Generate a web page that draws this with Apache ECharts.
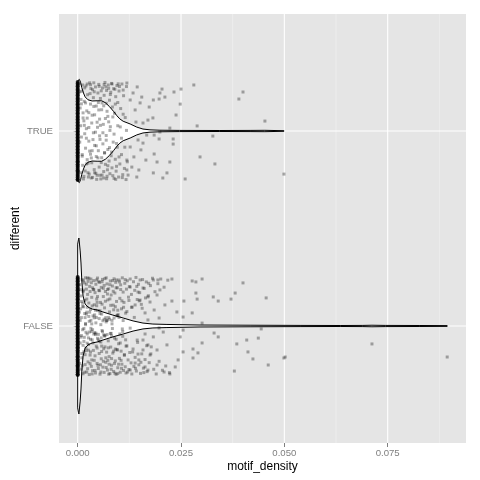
<!DOCTYPE html>
<html><head><meta charset="utf-8">
<script src="https://cdn.jsdelivr.net/npm/echarts@6/dist/echarts.min.js"></script>
<style>html,body{margin:0;padding:0;background:#fff}#c{width:480px;height:480px}</style>
</head><body><div id="c"></div>
<script>
const categories = ['FALSE', 'TRUE'];
const xTicks = [0, 0.025, 0.05, 0.075];
const xTickLabels = ['0.000', '0.025', '0.050', '0.075'];
const xMinorTicks = [0.0125, 0.0375, 0.0625, 0.0875];

// violin outlines: x positions and half-widths (category units)
const trueViolinX = [0, 0.0002, 0.0004, 0.0007, 0.0010, 0.0014, 0.0018, 0.0025, 0.0035, 0.0047, 0.0058, 0.0067, 0.0077, 0.0087, 0.0095, 0.0102, 0.0110, 0.0127, 0.0143, 0.0158, 0.0175, 0.0199, 0.0247, 0.0344, 0.0417, 0.0453, 0.0499];
const trueViolinW = [0.25, 0.262, 0.265, 0.250, 0.222, 0.195, 0.175, 0.160, 0.154, 0.155, 0.155, 0.145, 0.125, 0.100, 0.078, 0.062, 0.050, 0.036, 0.020, 0.010, 0.006, 0.004, 0.003, 0.0025, 0.003, 0.0035, 0.0015];
const falseViolinX = [0, 0.0002, 0.0003, 0.0006, 0.0008, 0.0010, 0.0013, 0.0018, 0.0025, 0.0035, 0.0047, 0.0061, 0.0085, 0.0110, 0.0134, 0.0158, 0.0182, 0.0216, 0.0296, 0.0417, 0.0538, 0.0635, 0.0690, 0.0712, 0.0744, 0.0828, 0.0894];
const falseViolinW = [0.42, 0.445, 0.451, 0.385, 0.323, 0.231, 0.154, 0.113, 0.097, 0.087, 0.082, 0.072, 0.056, 0.041, 0.026, 0.015, 0.010, 0.008, 0.005, 0.004, 0.003, 0.0025, 0.003, 0.004, 0.003, 0.0025, 0.002];

// jittered observations: [motif_density, vertical jitter offset]
const truePoints = [
[0.0004,0.243],[0.0006,0.118],[0.0009,-0.031],[0.0010,0.204],[0.0012,-0.176],[0.0013,0.067],[0.0015,-0.233],[0.0016,0.152],[0.0019,-0.088],[0.0020,0.231],[0.0021,0.012],[0.0023,-0.147],[0.0024,0.186],[0.0025,-0.214],[0.0027,0.094],[0.0027,-0.052],[0.0029,0.247],[0.0031,-0.119],[0.0031,0.138],[0.0033,-0.241],[0.0034,0.041],[0.0034,-0.163],[0.0036,0.212],[0.0038,-0.009],[0.0038,0.171],[0.0040,-0.198],[0.0041,0.083],[0.0041,-0.074],[0.0043,0.226],[0.0045,-0.131],[0.0045,0.128],[0.0047,-0.227],[0.0048,0.019],[0.0049,0.195],[0.0050,-0.101],[0.0051,0.239],[0.0052,-0.185],[0.0053,0.061],[0.0054,-0.043],[0.0055,0.167],[0.0056,-0.246],[0.0058,0.109],[0.0058,-0.137],[0.0060,0.221],[0.0061,-0.066],[0.0062,0.034],[0.0063,-0.208],[0.0064,0.183],[0.0065,-0.113],[0.0066,0.249],[0.0067,-0.171],[0.0069,0.142],[0.0069,-0.023],[0.0070,0.208],[0.0071,-0.232],[0.0073,0.075],[0.0073,-0.095],[0.0074,0.236],[0.0076,-0.154],[0.0077,0.158],[0.0078,-0.219],[0.0078,0.003],[0.0080,0.199],[0.0081,-0.127],[0.0082,0.244],[0.0083,-0.189],[0.0084,0.123],[0.0086,-0.057],[0.0087,0.217],[0.0088,-0.243],[0.0089,0.091],[0.0091,-0.145],[0.0092,0.176],[0.0093,-0.206],[0.0095,0.233],[0.0096,-0.083],[0.0097,0.146],[0.0099,-0.236],[0.0100,0.205],[0.0102,-0.169],[0.0104,0.115],[0.0106,-0.121],[0.0107,0.241],[0.0109,-0.224],[0.0111,0.181],[0.0113,-0.192],[0.0115,0.069],[0.0117,-0.249],[0.0118,0.228],[0.0120,-0.158],[0.0008,0.162],[0.0011,-0.121],[0.0017,0.221],[0.0018,-0.205],[0.0022,0.103],[0.0026,-0.236],[0.0030,0.192],[0.0035,-0.101],[0.0039,0.247],[0.0044,-0.217],[0.0050,0.146],[0.0054,-0.227],[0.0057,0.206],[0.0063,-0.241],[0.0068,0.226],[0.0072,-0.199],[0.0079,0.187],[0.0085,-0.229],[0.0090,0.214],[0.0094,-0.181],[0.0101,0.228],[0.0108,-0.239],
[0.0005,0.201],[0.0007,-0.214],[0.0012,0.236],[0.0014,-0.246],[0.0016,0.029],[0.0021,-0.169],[0.0023,0.241],[0.0028,-0.221],[0.0032,0.218],[0.0036,-0.238],[0.0040,0.201],[0.0046,-0.248],[0.0052,0.229],[0.0059,-0.226],[0.0064,0.238],[0.0070,-0.245],[0.0075,0.219],[0.0083,0.241],[0.0092,-0.248],[0.0098,0.242],
[0.0005,-0.057],[0.0007,0.027],[0.0009,0.139],[0.0011,-0.129],[0.0013,0.093],[0.0015,0.052],[0.0017,-0.014],[0.0019,0.144],[0.0021,-0.037],[0.0023,0.066],[0.0025,-0.165],[0.0027,0.018],[0.0029,-0.103],[0.0031,0.237],[0.0033,-0.138],[0.0035,0.081],[0.0037,-0.044],[0.0039,0.126],[0.0041,-0.214],[0.0043,-0.006],[0.0045,-0.076],[0.0047,0.045],[0.0049,-0.138],[0.0051,0.108],[0.0053,-0.025],[0.0055,0.029],[0.0057,-0.162],[0.0059,0.144],[0.0061,-0.009],[0.0063,0.129],[0.0065,-0.111],[0.0067,0.064],[0.0069,-0.047],[0.0071,0.101],[0.0073,-0.178],[0.0075,0.047],[0.0077,-0.085],[0.0079,0.022],[0.0082,-0.108],[0.0085,0.072],[0.0088,-0.016],[0.0091,0.138],[0.0094,-0.064],[0.0097,0.027],[0.0100,-0.133],[0.0103,0.021],[0.0106,-0.037],[0.0110,0.086],[0.0114,-0.083],[0.0118,0.003],
[0.0119,0.246],[0.0110,0.210],[0.0127,0.159],[0.0139,0.108],[0.0158,0.041],[0.0141,0.046],[0.0127,-0.082],[0.0136,-0.133],[0.0119,-0.149],[0.0144,0.226],[0.0134,0.195],[0.0151,0.144],[0.0155,0.174],[0.0148,-0.200],[0.0143,-0.236],[0.0131,-0.185],[0.0122,-0.226],[0.0119,-0.200],[0.0153,-0.097],[0.0158,-0.062],[0.0146,-0.046],[0.0167,-0.021],[0.0165,-0.149],
[0.0281,0.236],[0.0400,0.200],[0.0390,0.164],[0.0453,0.051],[0.0499,-0.221],[0.0327,-0.026],[0.0332,-0.169],[0.0296,-0.133],[0.0260,-0.246],[0.0289,0.026],[0.0248,0.138],[0.0238,0.082],[0.0231,-0.041],[0.0231,-0.067],[0.0250,0.215],[0.0233,0.200],[0.0204,0.215],[0.0199,0.195],[0.0211,0.174],[0.0197,0.164],[0.0183,0.159],[0.0173,0.123],[0.0182,0.067],[0.0170,0.056],[0.0223,0.015],[0.0199,-0.005],[0.0197,-0.041],[0.0185,-0.021],[0.0223,-0.159],[0.0216,-0.215],[0.0206,-0.241],[0.0183,-0.215],[0.0185,-0.118],[0.0192,-0.159]
];
const falsePoints = [
[0.0005,0.212],[0.0006,-0.087],[0.0008,0.154],[0.0008,-0.221],[0.0009,0.043],[0.0010,-0.163],[0.0011,0.238],[0.0012,-0.019],[0.0013,0.176],[0.0013,-0.245],[0.0014,0.098],[0.0015,-0.132],[0.0016,0.221],[0.0016,-0.058],[0.0017,0.131],[0.0018,-0.198],[0.0019,0.007],[0.0019,0.247],[0.0020,-0.112],[0.0021,0.189],[0.0022,-0.236],[0.0022,0.071],[0.0023,-0.041],[0.0024,0.162],[0.0025,-0.184],[0.0025,0.229],[0.0026,-0.095],[0.0027,0.118],[0.0028,-0.249],[0.0028,0.024],[0.0029,0.203],[0.0030,-0.149],[0.0031,0.085],[0.0032,-0.012],[0.0032,0.241],[0.0033,-0.207],[0.0034,0.147],[0.0035,-0.071],[0.0036,0.196],[0.0036,-0.229],[0.0037,0.052],[0.0038,-0.125],[0.0039,0.233],[0.0040,-0.176],[0.0040,0.109],[0.0041,-0.034],[0.0042,0.171],[0.0043,-0.241],[0.0044,0.016],[0.0044,0.214],[0.0045,-0.103],[0.0046,0.138],[0.0047,-0.192],[0.0048,0.246],[0.0048,-0.063],[0.0049,0.079],[0.0050,-0.218],[0.0051,0.183],[0.0052,-0.141],[0.0052,0.038],[0.0053,0.224],[0.0054,-0.247],[0.0055,0.121],[0.0056,-0.082],[0.0057,0.198],[0.0057,-0.168],[0.0058,0.061],[0.0059,-0.023],[0.0060,0.239],[0.0061,-0.211],[0.0062,0.151],[0.0063,-0.117],[0.0064,0.208],[0.0064,-0.238],[0.0065,0.093],[0.0066,-0.049],[0.0067,0.177],[0.0068,-0.186],[0.0069,0.247],[0.0070,-0.134],[0.0071,0.029],[0.0071,0.216],[0.0072,-0.226],[0.0073,0.134],[0.0074,-0.076],[0.0075,0.191],[0.0076,-0.157],[0.0077,0.072],[0.0078,-0.244],[0.0079,0.231],[0.0080,-0.108],[0.0081,0.159],[0.0082,-0.201],[0.0083,0.011],[0.0084,0.205],[0.0085,-0.139],[0.0086,0.107],[0.0087,-0.233],[0.0088,0.242],[0.0089,-0.062],[0.0090,0.169],[0.0091,-0.179],[0.0092,0.224],[0.0093,-0.248],[0.0094,0.126],[0.0095,-0.121],[0.0096,0.196],[0.0097,-0.214],[0.0098,0.058],[0.0099,-0.091],[0.0100,0.236],[0.0101,-0.166],[0.0102,0.142],[0.0103,-0.237],[0.0104,0.211],[0.0105,-0.129],[0.0106,0.088],[0.0107,-0.196],[0.0108,0.247],[0.0109,-0.053],[0.0110,0.174],[0.0111,-0.228],[0.0112,0.121],[0.0113,-0.151],[0.0114,0.219],[0.0115,-0.209],[0.0116,0.066],[0.0117,-0.241],[0.0118,0.189],[0.0119,-0.102],[0.0120,0.232],[0.0122,-0.174],[0.0123,0.148],[0.0124,-0.223],[0.0125,0.202],[0.0126,-0.136],[0.0127,0.241],[0.0129,-0.189],[0.0130,0.162],[0.0131,-0.246],[0.0132,0.097],[0.0134,-0.118],[0.0135,0.227],[0.0136,-0.207],[0.0138,0.183],[0.0139,-0.161],[0.0141,0.249],[0.0142,-0.231],[0.0144,0.136],[0.0145,-0.084],[0.0147,0.214],[0.0148,-0.199],[0.0150,0.171],[0.0152,-0.243],[0.0154,0.111],[0.0155,-0.143],[0.0157,0.238],[0.0159,-0.216],[0.0161,0.193],[0.0163,-0.172],[0.0166,0.226],[0.0168,-0.234],[0.0171,0.155],[0.0173,-0.188],[0.0176,0.207],[0.0178,-0.107],[0.0181,0.245],[0.0184,-0.222],[0.0187,0.176],[0.0190,-0.246],[0.0194,0.217],[0.0197,-0.181],[0.0201,0.241],[0.0205,-0.227],[0.0209,0.199],[0.0213,-0.205],[0.0218,0.235],[0.0222,-0.239],
[0.0007,0.186],[0.0011,-0.204],[0.0014,0.232],[0.0017,-0.237],[0.0021,0.214],[0.0024,-0.219],[0.0027,0.245],[0.0030,-0.193],[0.0033,0.222],[0.0035,-0.246],[0.0039,0.186],[0.0042,-0.228],[0.0046,0.236],[0.0049,-0.202],[0.0053,0.181],[0.0056,-0.236],[0.0059,0.227],[0.0062,-0.181],[0.0066,0.243],[0.0069,-0.213],[0.0072,0.187],[0.0075,-0.247],[0.0078,0.212],[0.0081,-0.222],[0.0085,0.233],[0.0089,-0.192],[0.0093,0.196],[0.0097,-0.244],[0.0101,0.226],[0.0106,-0.217],
[0.0006,0.029],[0.0009,-0.049],[0.0012,0.101],[0.0015,-0.079],[0.0018,0.043],[0.0020,-0.126],[0.0023,0.096],[0.0026,-0.061],[0.0029,0.071],[0.0031,-0.133],[0.0034,0.011],[0.0037,-0.087],[0.0041,0.057],[0.0043,-0.044],[0.0047,0.121],[0.0050,-0.071],[0.0054,0.064],[0.0058,-0.103],[0.0061,0.027],[0.0065,-0.052],[0.0068,0.043],[0.0073,-0.176],[0.0077,0.035],[0.0082,-0.051],[0.0087,0.083],[0.0091,-0.118],[0.0096,0.055],[0.0103,-0.087],[0.0110,0.028],[0.0116,-0.071],
[0.0004,0.071],[0.0005,-0.192],[0.0007,0.088],[0.0008,-0.057],[0.0009,0.126],[0.0010,-0.141],[0.0012,0.117],[0.0013,-0.099],[0.0014,0.184],[0.0015,-0.013],[0.0017,0.064],[0.0018,-0.147],[0.0019,0.013],[0.0020,-0.032],[0.0022,0.138],[0.0023,-0.088],[0.0024,0.246],[0.0026,-0.124],[0.0027,0.049],[0.0028,-0.031],[0.0030,0.177],[0.0031,-0.068],[0.0032,0.029],[0.0034,-0.174],[0.0035,0.103],[0.0036,-0.019],[0.0038,0.188],[0.0039,-0.041],[0.0040,0.042],[0.0042,-0.153],[0.0043,0.081],[0.0044,-0.037],[0.0046,0.104],[0.0047,-0.113],[0.0048,0.151],[0.0050,-0.043],[0.0051,0.227],[0.0052,-0.079],[0.0054,0.078],[0.0055,-0.199],[0.0056,0.007],[0.0058,-0.131],[0.0059,0.112],[0.0060,-0.029],[0.0062,0.193],[0.0063,-0.045],[0.0064,0.035],[0.0066,-0.107],[0.0067,0.127],[0.0068,-0.163],[0.0070,0.029],[0.0071,-0.044],[0.0072,0.164],[0.0074,-0.112],[0.0075,0.044],[0.0076,-0.196],[0.0078,0.139],[0.0079,-0.038],[0.0080,0.106],[0.0082,-0.167],[0.0083,0.029],[0.0084,-0.013],[0.0086,0.178],[0.0087,-0.129],[0.0088,0.041],[0.0090,-0.242],[0.0091,0.099],[0.0093,-0.068],[0.0094,0.236],[0.0096,-0.123],[0.0097,0.081],[0.0099,-0.196],[0.0100,0.044],[0.0102,-0.041],[0.0104,0.187],[0.0105,-0.176],[0.0107,0.129],[0.0109,-0.028],[0.0111,0.096],[0.0113,-0.146],[0.0115,0.238],[0.0117,-0.103],[0.0119,0.074],[0.0121,-0.236],[0.0124,0.131],[0.0127,-0.011],[0.0130,0.096],[0.0133,-0.133],[0.0137,0.044],[0.0140,-0.217],[0.0143,0.203],[0.0146,-0.144],[0.0149,0.129],[0.0153,-0.186],[0.0156,0.091],[0.0160,-0.239],[0.0164,0.144],[0.0167,-0.101],[0.0172,0.219],[0.0177,-0.143],
[0.0021,0.061],[0.0033,-0.028],[0.0045,0.044],[0.0057,-0.061],[0.0069,0.021],[0.0081,-0.038],[0.0095,0.052],[0.0108,-0.015],
[0.0228,0.241],[0.0277,0.231],[0.0286,0.226],[0.0301,0.241],[0.0400,0.221],[0.0381,0.169],[0.0328,0.149],[0.0340,0.128],[0.0371,0.138],[0.0456,0.144],[0.0286,0.169],[0.0289,0.138],[0.0257,0.128],[0.0228,0.128],[0.0240,0.072],[0.0255,0.046],[0.0277,0.067],[0.0301,0.015],[0.0255,-0.021],[0.0248,-0.056],[0.0330,-0.036],[0.0340,-0.056],[0.0301,-0.087],[0.0385,-0.092],[0.0409,-0.072],[0.0437,-0.062],[0.0444,-0.015],[0.0412,-0.133],[0.0424,-0.169],[0.0461,-0.200],[0.0499,-0.164],[0.0379,-0.231],[0.0291,-0.138],[0.0279,-0.118],[0.0279,-0.164],[0.0255,-0.133],[0.0243,-0.174],[0.0236,-0.210],[0.0223,-0.246],[0.0209,-0.236],[0.0192,-0.200],[0.0216,-0.097],[0.0207,-0.031],[0.0197,-0.010],[0.0192,-0.123],[0.0183,-0.056],[0.0175,-0.149],[0.0163,-0.210],[0.0170,-0.226],[0.0199,0.185],[0.0192,0.159],[0.0211,0.108],[0.0185,0.082],[0.0197,0.041],[0.0170,0.031],[0.0163,0.067],[0.0175,0.123],[0.0170,0.149],[0.0183,0.236],[0.0194,0.236],[0.0151,0.236],[0.0158,0.195],[0.0146,0.174],[0.0151,0.133],[0.0139,0.108],[0.0158,-0.123],[0.0148,-0.174],[0.0139,-0.190],[0.0127,-0.226],[0.0163,-0.041],[0.0158,-0.072],[0.0170,-0.097],[0.0144,-0.072],[0.0127,0.200],
[0.0712,-0.092],[0.0894,-0.159],[0.0502,-0.159]
];
// observations exactly at zero (jitter offsets)
const trueZeroJitter = [0.251,0.244,0.236,0.229,0.221,0.213,0.206,0.198,0.19,0.183,0.175,0.167,0.16,0.152,0.144,0.137,0.129,0.121,0.114,0.106,0.098,0.091,0.083,0.075,0.068,0.06,0.052,0.045,0.037,0.029,0.022,0.014,0.006,-0.001,-0.009,-0.017,-0.024,-0.032,-0.04,-0.047,-0.055,-0.063,-0.07,-0.078,-0.086,-0.093,-0.101,-0.109,-0.116,-0.124,-0.132,-0.139,-0.147,-0.155,-0.162,-0.17,-0.178,-0.185,-0.193,-0.201,-0.208,-0.216,-0.224,-0.231,-0.239,-0.247,-0.251];
const falseZeroJitter = [0.251,0.244,0.236,0.229,0.221,0.213,0.206,0.198,0.19,0.183,0.175,0.167,0.16,0.152,0.144,0.137,0.129,0.121,0.114,0.106,0.098,0.091,0.083,0.075,0.068,0.06,0.052,0.045,0.037,0.029,0.022,0.014,0.006,-0.001,-0.009,-0.017,-0.024,-0.032,-0.04,-0.047,-0.055,-0.063,-0.07,-0.078,-0.086,-0.093,-0.101,-0.109,-0.116,-0.124,-0.132,-0.139,-0.147,-0.155,-0.162,-0.17,-0.178,-0.185,-0.193,-0.201,-0.208,-0.216,-0.224,-0.231,-0.239,-0.247,-0.251];

const violins = [
  {x: falseViolinX, w: falseViolinW},
  {x: trueViolinX, w: trueViolinW}
];
const toXY = (pts, ci) => pts.map(p => [p[0], ci + 1 + p[1]]);
const zeroXY = (js, ci) => js.map(j => [0, ci + 1 + j]);
const X_MIN = -0.00452, X_MAX = 0.09395, Y_MIN = 0.4, Y_MAX = 2.6;

// grid line specs: [value, direction (0 = vertical, 1 = horizontal), major flag]
const gridSpecs = []
  .concat(xMinorTicks.map(v => [v, 0, 0]))
  .concat(xTicks.map(v => [v, 0, 1]))
  .concat([1, 2].map(v => [v, 1, 1]));

const font = '"Liberation Sans", Arial, sans-serif';
const chart = echarts.init(document.getElementById('c'), null, {renderer: 'canvas'});

chart.setOption({
  animation: false,
  backgroundColor: '#fff',
  grid: {left: 59, top: 14, width: 407, height: 429, show: true, backgroundColor: '#E5E5E5', borderWidth: 0,
         containLabel: false, outerBoundsMode: 'none'},
  xAxis: {
    type: 'value', min: X_MIN, max: X_MAX,
    name: 'motif_density', nameLocation: 'middle', nameGap: 18, nameMoveOverlap: false,
    nameTextStyle: {color: '#000', fontSize: 12, fontFamily: font},
    axisLine: {show: false},
    axisTick: {show: true, length: 4, customValues: xTicks, lineStyle: {color: '#7F7F7F', width: 1}},
    axisLabel: {customValues: xTicks, margin: 5, color: '#7F7F7F', fontSize: 9.6, fontFamily: font,
      formatter: v => { const i = xTicks.findIndex(t => Math.abs(t - v) < 1e-9); return i >= 0 ? xTickLabels[i] : ''; }},
    splitLine: {show: false}
  },
  yAxis: {
    type: 'value', min: Y_MIN, max: Y_MAX,
    name: 'different', nameLocation: 'middle', nameGap: 37, nameRotate: 90, nameMoveOverlap: false,
    nameTextStyle: {color: '#000', fontSize: 12, fontFamily: font},
    axisLine: {show: false},
    axisTick: {show: true, length: 4, customValues: [1, 2], lineStyle: {color: '#7F7F7F', width: 1}},
    axisLabel: {customValues: [1, 2], margin: 6, color: '#7F7F7F', fontSize: 9.6, fontFamily: font,
      formatter: v => categories[Math.round(v) - 1] || ''},
    splitLine: {show: false}
  },
  series: [
    {type: 'custom', z: 1, silent: true, data: gridSpecs,
     renderItem: (params, api) => {
       const v = api.value(0), dir = api.value(1), major = api.value(2);
       const a = dir === 0 ? api.coord([v, Y_MIN]) : api.coord([X_MIN, v]);
       const b = dir === 0 ? api.coord([v, Y_MAX]) : api.coord([X_MAX, v]);
       return {type: 'line', shape: {x1: a[0], y1: a[1], x2: b[0], y2: b[1]},
               style: {stroke: major ? '#FFFFFF' : '#F2F2F2', lineWidth: major ? 1.1 : 0.6}};
     }},
    {type: 'custom', z: 2, silent: true, data: [[0], [1]],
     renderItem: (params, api) => {
       const ci = api.value(0);
       const v = violins[ci];
       const pts = [];
       for (let i = 0; i < v.x.length; i++) pts.push(api.coord([v.x[i], ci + 1 + v.w[i]]));
       for (let i = v.x.length - 1; i >= 0; i--) pts.push(api.coord([v.x[i], ci + 1 - v.w[i]]));
       return {type: 'polygon', shape: {points: pts}, style: {fill: '#FFFFFF', stroke: '#000000', lineWidth: 1}};
     }},
    {type: 'scatter', z: 3, silent: true, symbol: 'rect', symbolSize: 3,
     itemStyle: {color: 'rgba(0,0,0,0.4)'}, data: toXY(falsePoints, 0).concat(toXY(truePoints, 1))},
    {type: 'scatter', z: 4, silent: true, symbol: 'circle', symbolSize: 4,
     itemStyle: {color: '#000000'}, data: zeroXY(falseZeroJitter, 0).concat(zeroXY(trueZeroJitter, 1))}
  ]
});
</script>
</body></html>
